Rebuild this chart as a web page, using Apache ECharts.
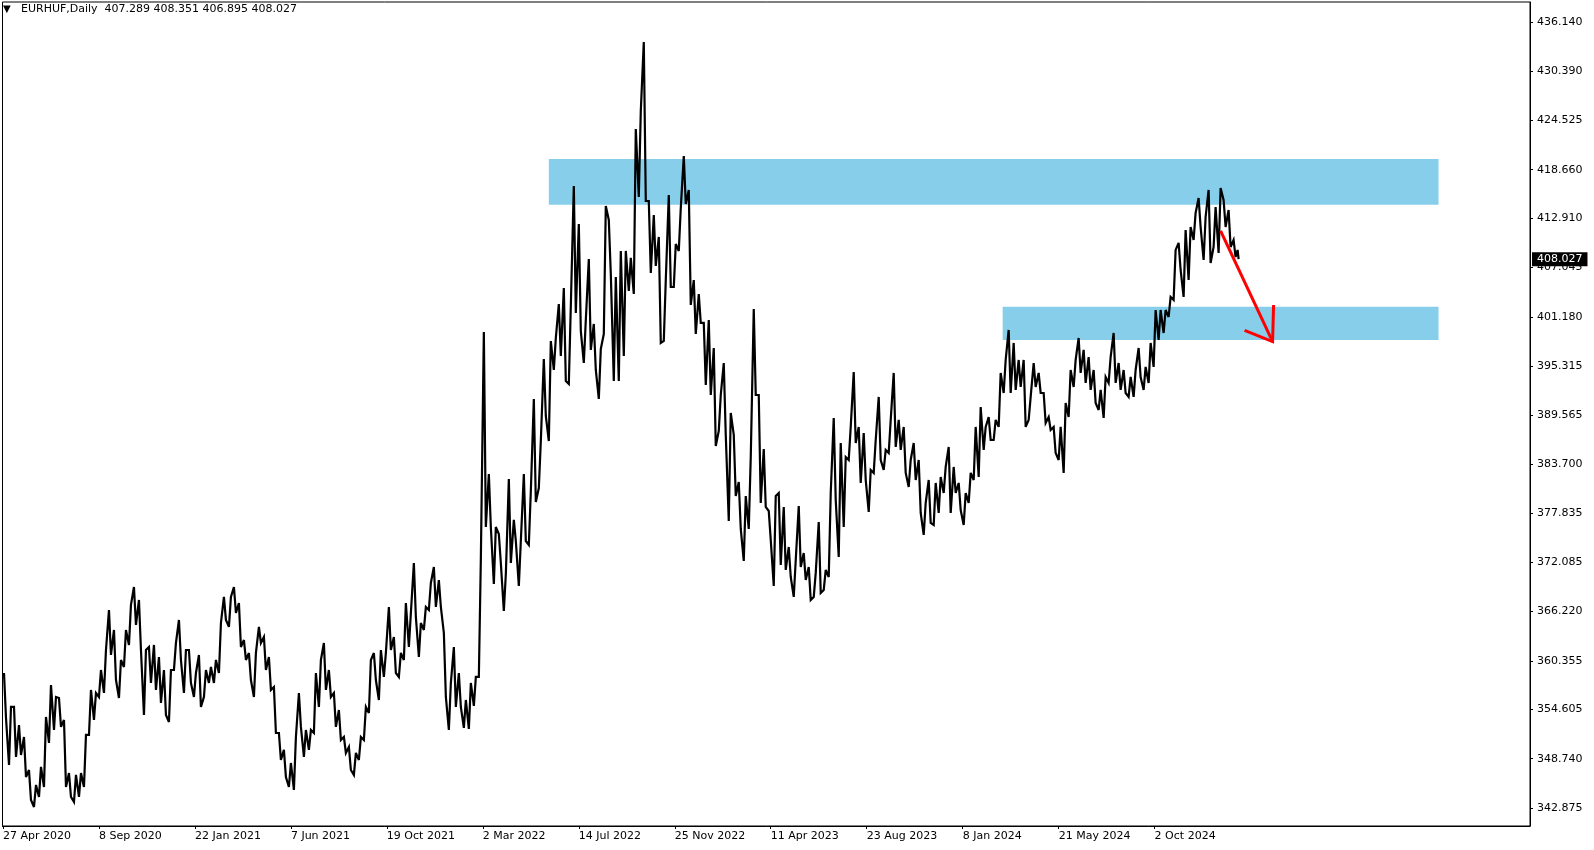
<!DOCTYPE html>
<html><head><meta charset="utf-8">
<script src="https://cdn.jsdelivr.net/npm/echarts@6/dist/echarts.min.js"></script>
<style>html,body{margin:0;padding:0;background:#fff}#c{width:1594px;height:850px}</style>
</head><body><div id="c"></div>
<script>
const symbolName = 'EURHUF,Daily';
const lastBar = [407.289, 408.351, 406.895, 408.027]; // O H L C
const closedDays = ['2023-01-02'];
const totalSlots = 1528;
const lastIdx = 1236;
const labelEvery = 96;
const yTickLabels = [342.875, 348.740, 354.605, 360.355, 366.220, 372.085, 377.835, 383.700, 389.565, 395.315, 401.180, 407.045, 412.910, 418.660, 424.525, 430.390, 436.140];

// weekly (5-bar) highs and lows
const weekHigh = [
358.91, 354.88, 354.88, 352.74, 351.32, 347.40, 345.62, 347.76, 353.69, 357.49,
356.07, 355.95, 353.34, 347.04, 346.81, 347.04, 351.56, 356.90, 356.54, 359.27,
361.64, 366.39, 364.02, 360.46, 364.02, 366.99, 369.12, 367.58, 361.64, 362.00,
362.24, 360.81, 359.27, 359.27, 362.48, 365.21, 361.64, 361.64, 358.91, 361.05,
359.27, 359.63, 360.46, 364.85, 367.94, 367.94, 369.12, 367.22, 362.83, 361.29,
361.29, 364.38, 363.19, 360.81, 357.25, 351.79, 349.78, 348.23, 351.32, 356.54,
352.15, 352.15, 358.91, 360.46, 362.48, 359.27, 356.54, 354.52, 351.32, 350.13,
349.42, 351.32, 354.88, 360.46, 361.29, 361.64, 361.29, 366.75, 363.19, 361.29,
367.22, 366.04, 371.97, 364.85, 366.75, 369.60, 371.50, 369.95, 363.66, 357.73,
362.00, 358.91, 355.71, 357.73, 358.44, 372.45, 399.39, 382.54, 376.24, 375.41,
370.67, 381.94, 377.08, 374.58, 382.54, 380.52, 391.44, 386.45, 396.19, 398.32,
398.68, 402.71, 404.61, 402.48, 416.72, 412.21, 400.82, 408.06, 400.34, 397.37,
414.35, 412.69, 405.92, 409.01, 409.01, 408.18, 423.49, 425.62, 433.81, 414.94,
413.28, 410.67, 405.56, 415.65, 409.84, 414.11, 420.28, 416.25, 405.56, 403.90,
400.46, 400.82, 397.49, 391.91, 395.71, 389.78, 387.17, 381.59, 379.92, 384.55,
402.12, 391.91, 385.50, 378.14, 379.92, 380.28, 378.62, 373.87, 372.33, 378.74,
373.16, 371.50, 370.79, 376.84, 371.14, 380.28, 389.18, 386.21, 384.55, 388.12,
394.64, 388.12, 387.40, 383.01, 386.57, 391.68, 385.39, 388.95, 394.53, 388.95,
388.12, 384.20, 386.21, 384.20, 379.10, 381.82, 381.47, 382.18, 383.37, 385.74,
383.37, 381.47, 380.28, 382.66, 388.12, 390.49, 388.12, 389.30, 388.95, 394.53,
396.07, 399.63, 398.09, 396.07, 396.07, 391.68, 395.71, 394.53, 392.15, 389.30,
388.12, 388.12, 390.96, 394.88, 396.07, 398.68, 397.26, 396.42, 394.88, 392.51,
394.05, 396.42, 399.27, 395.71, 394.88, 394.05, 394.88, 397.49, 395.24, 398.09,
402.00, 402.00, 402.00, 403.55, 409.13, 409.96, 411.50, 411.86, 413.52, 415.30,
413.04, 416.25, 414.23, 416.48, 415.06, 413.87, 410.31, 409.13
];
const weekLow = [
353.57, 347.99, 348.94, 349.18, 346.57, 343.84, 343.01, 344.20, 345.38, 350.61,
352.15, 352.51, 345.38, 344.20, 343.60, 344.20, 345.38, 351.56, 353.34, 356.07,
356.54, 361.05, 358.08, 355.95, 359.63, 362.24, 364.61, 361.64, 353.93, 357.73,
356.90, 355.35, 353.93, 353.10, 359.27, 360.46, 356.54, 357.73, 356.07, 354.88,
356.07, 357.73, 357.73, 358.91, 365.21, 364.38, 366.04, 362.00, 360.46, 358.08,
356.07, 362.48, 359.27, 356.90, 351.79, 348.59, 346.57, 345.38, 345.03, 352.51,
348.94, 349.78, 351.79, 354.88, 356.90, 356.07, 352.51, 350.96, 349.42, 347.40,
346.81, 348.59, 350.96, 354.17, 358.08, 355.71, 358.44, 361.64, 358.91, 358.44,
360.46, 362.00, 365.56, 360.81, 364.02, 366.39, 366.75, 366.75, 356.07, 352.15,
354.88, 354.88, 352.39, 352.27, 355.00, 358.44, 376.24, 376.24, 369.48, 371.97,
366.27, 371.97, 374.58, 369.24, 374.58, 374.11, 379.21, 380.87, 389.42, 386.45,
394.88, 396.54, 393.58, 393.22, 401.65, 399.51, 395.71, 397.26, 394.88, 391.44,
399.15, 406.28, 393.58, 393.58, 396.54, 404.26, 403.90, 415.42, 414.94, 406.39,
407.23, 398.09, 398.32, 404.73, 404.73, 409.01, 414.59, 402.60, 399.15, 400.46,
393.10, 391.91, 385.86, 387.64, 387.17, 376.96, 379.92, 376.01, 372.21, 376.01,
391.91, 379.10, 378.62, 374.70, 369.24, 371.74, 371.14, 370.31, 367.94, 371.50,
369.95, 367.58, 367.94, 368.41, 368.77, 370.31, 379.45, 372.68, 376.24, 384.20,
386.21, 381.47, 381.82, 378.03, 382.66, 384.20, 383.01, 385.03, 385.74, 385.39,
382.66, 380.99, 381.82, 377.91, 375.30, 376.72, 376.48, 377.91, 380.28, 377.91,
380.28, 378.26, 376.48, 379.10, 381.82, 382.18, 385.39, 386.57, 386.57, 388.12,
392.15, 392.15, 392.51, 392.86, 388.12, 388.95, 392.86, 392.15, 388.59, 387.76,
385.03, 384.20, 382.66, 389.30, 392.86, 394.53, 393.34, 392.51, 390.96, 390.13,
389.18, 393.34, 393.34, 392.51, 392.15, 391.68, 391.68, 394.05, 392.51, 393.34,
395.24, 398.44, 399.27, 401.17, 403.19, 406.75, 403.55, 405.56, 410.31, 411.86,
407.94, 407.58, 409.48, 408.77, 411.86, 409.48, 408.29, 406.75
];

// drawn objects, in chart units (bar index, price)
const zoneUpper = { from: 546, to: 1436, top: 419.93, bottom: 414.50 };
const zoneLower = { from: 1000, to: 1436, top: 402.38, bottom: 398.44 };
const arrowShaft = [[1218, 411.38], [1270, 398.25]];
const arrowHead = [[1242, 399.58], [1270, 398.25], [1271, 402.60]];

// trading-day categories
const MONTHS = ['Jan','Feb','Mar','Apr','May','Jun','Jul','Aug','Sep','Oct','Nov','Dec'];
const cats = [];
let d = new Date(Date.UTC(2020, 3, 27));
while (cats.length < totalSlots) {
  const wd = d.getUTCDay(), mm = d.getUTCMonth() + 1, dd = d.getUTCDate();
  const iso = d.toISOString().slice(0, 10);
  const skip = wd === 0 || wd === 6 || (mm === 12 && dd === 25) || (mm === 1 && dd === 1) || closedDays.includes(iso);
  if (!skip) cats.push(dd + ' ' + MONTHS[mm - 1] + ' ' + d.getUTCFullYear());
  d = new Date(d.getTime() + 86400000);
}

// price trace: each week's high and low, ordered by direction of travel
const line = new Array(totalSlots).fill(null);
for (let k = 0; k < weekHigh.length; k++) {
  const s = 5 * k, e = Math.min(s + 4, lastIdx);
  const b1 = s + Math.round((e - s) * 0.25), b2 = s + Math.round((e - s) * 0.75);
  const mid = (weekHigh[k] + weekLow[k]) / 2;
  const hasNext = k + 1 < weekHigh.length;
  const nk = hasNext ? k + 1 : k - 1;
  const nmid = (weekHigh[nk] + weekLow[nk]) / 2;
  const up = hasNext ? nmid > mid : nmid < mid;
  line[b1] = up ? weekLow[k] : weekHigh[k];
  line[b2] = up ? weekHigh[k] : weekLow[k];
}
line[lastIdx] = lastBar[3];

const showIdx = (i) => i % labelEvery === 0 && i <= lastIdx;
const FONT = 'DejaVu Sans';

const chart = echarts.init(document.getElementById('c'), null, { renderer: 'canvas' });
chart.setOption({
  animation: false,
  backgroundColor: '#fff',
  title: {
    text: '{t|▼}{s|' + symbolName + '  ' + lastBar.map(v => v.toFixed(3)).join(' ') + '}',
    left: 3, top: 4, padding: 0,
    textStyle: { fontWeight: 'normal', rich: {
      t: { fontSize: 10, width: 18, fontFamily: FONT, color: '#000', fontWeight: 'normal' },
      s: { fontSize: 11, fontFamily: FONT, color: '#000', fontWeight: 'normal' }
    } }
  },
  grid: { left: 2, right: 64, top: 2, bottom: 24, show: true, borderColor: '#000', borderWidth: 1, backgroundColor: '#fff' },
  xAxis: {
    type: 'category', data: cats, boundaryGap: true,
    axisLine: { show: true, lineStyle: { color: '#000', width: 1 } },
    axisTick: { show: true, alignWithLabel: true, length: 3, interval: showIdx, lineStyle: { color: '#000' } },
    axisLabel: { show: true, interval: showIdx, align: 'left', margin: 5, color: '#000', fontFamily: FONT, fontSize: 11 },
    splitLine: { show: false }
  },
  yAxis: {
    type: 'value', position: 'right', min: 340.75, max: 438.56,
    axisLine: { show: true, lineStyle: { color: '#000' } },
    axisTick: { show: true, length: 3, customValues: yTickLabels, lineStyle: { color: '#000' } },
    axisLabel: { show: true, customValues: yTickLabels, formatter: v => Number(v).toFixed(3), margin: 7, color: '#000', fontFamily: FONT, fontSize: 11 },
    splitLine: { show: false }
  },
  series: [
    {
      type: 'line', data: line, connectNulls: true, showSymbol: false, symbol: 'none', silent: true, z: 2,
      lineStyle: { color: '#000', width: 2.2, join: 'miter', miterLimit: 4 },
      markArea: {
        silent: true, itemStyle: { color: '#87CEEB', opacity: 1 },
        data: [
          [{ xAxis: cats[zoneUpper.from], yAxis: zoneUpper.top }, { xAxis: cats[zoneUpper.to], yAxis: zoneUpper.bottom }],
          [{ xAxis: cats[zoneLower.from], yAxis: zoneLower.top }, { xAxis: cats[zoneLower.to], yAxis: zoneLower.bottom }]
        ]
      },
      markLine: {
        silent: true, symbol: ['none', 'none'], animation: false,
        lineStyle: { color: 'rgba(0,0,0,0)', width: 1 },
        label: { show: true, position: 'end', distance: 2, formatter: lastBar[3].toFixed(3), color: '#fff', backgroundColor: '#000', padding: [1, 5, 0, 5], fontFamily: FONT, fontSize: 11, lineHeight: 13 },
        data: [{ yAxis: lastBar[3] }]
      }
    },
    {
      type: 'line', data: arrowShaft.map(p => [cats[p[0]], p[1]]), symbol: 'none', silent: true, z: 5,
      lineStyle: { color: '#ff0000', width: 3 }
    },
    {
      type: 'line', data: arrowHead.map(p => [cats[p[0]], p[1]]), symbol: 'none', silent: true, z: 5,
      lineStyle: { color: '#ff0000', width: 3, join: 'miter' }
    }
  ]
});
</script>
</body></html>
